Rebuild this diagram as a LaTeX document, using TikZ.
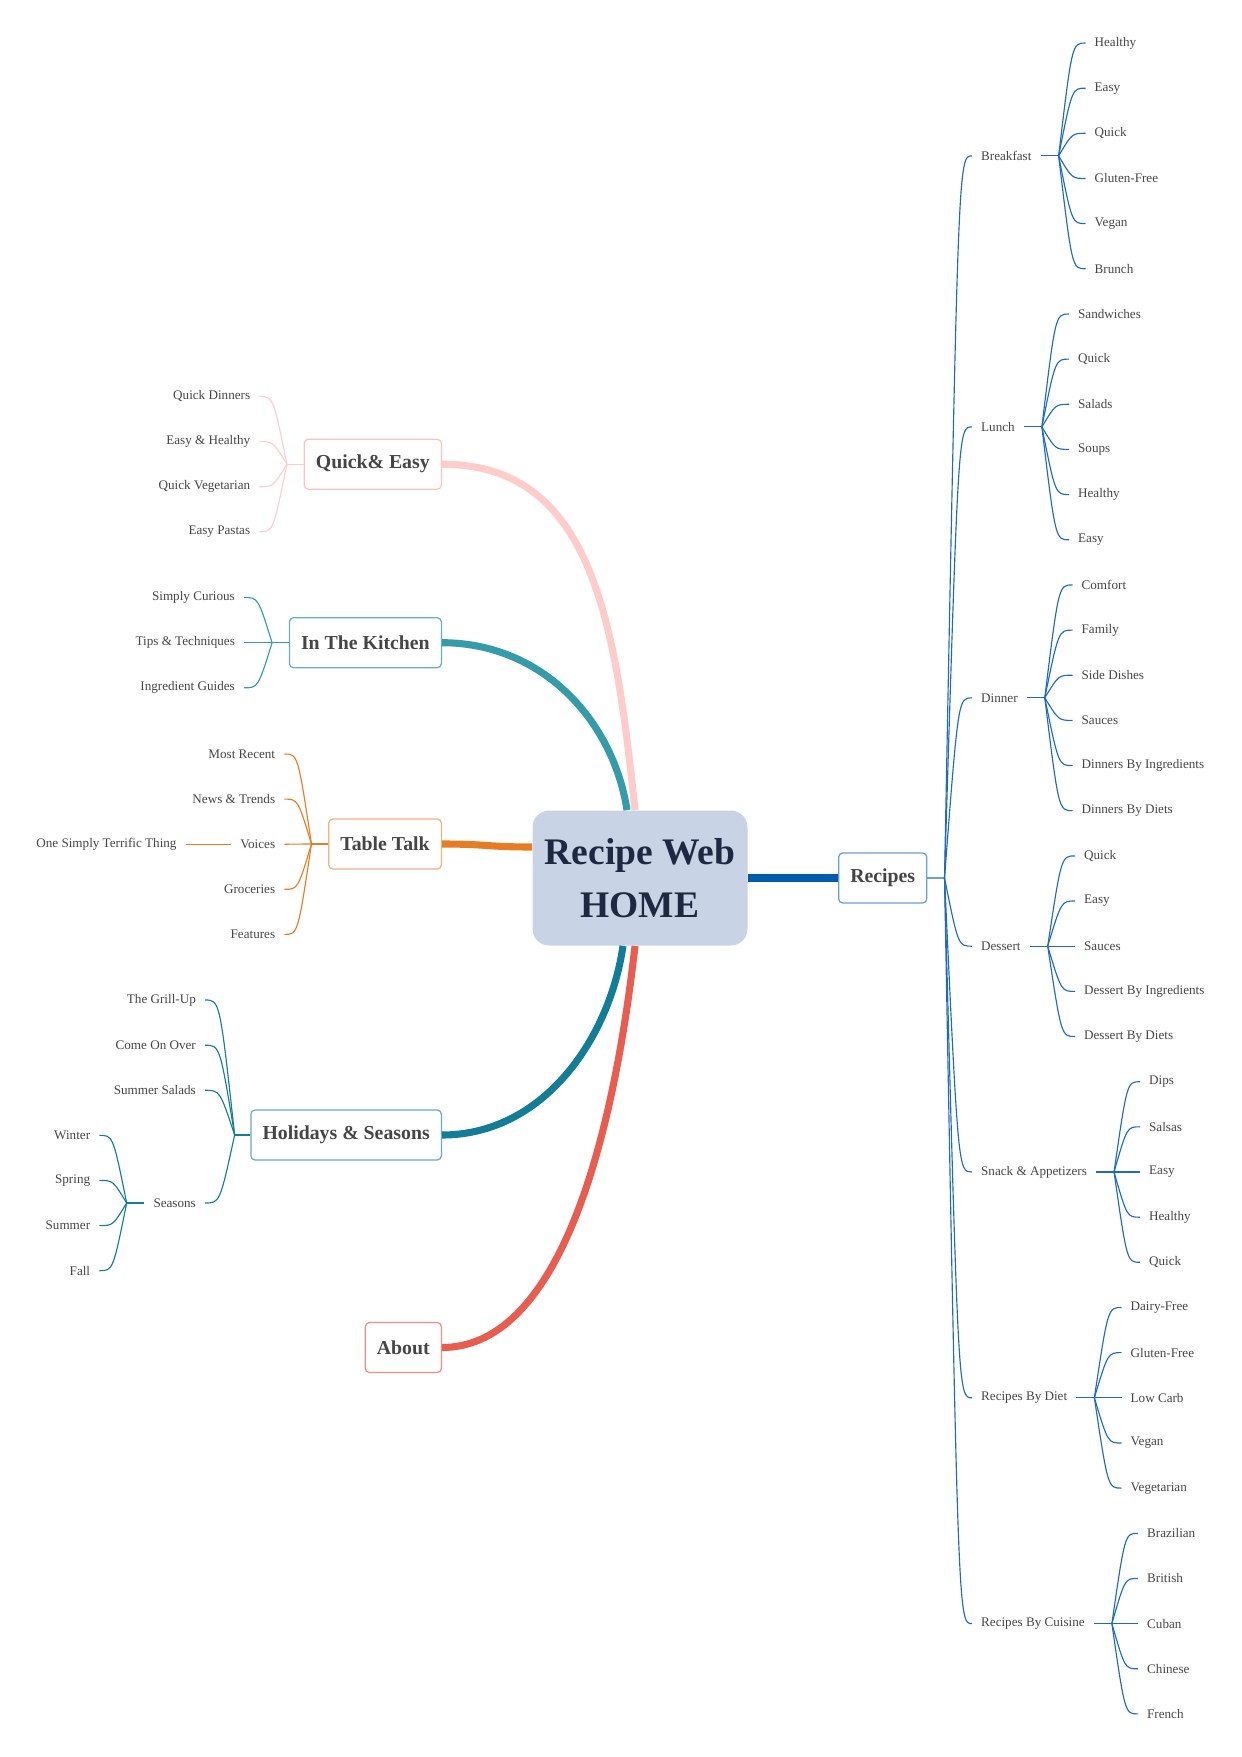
\documentclass[tikz,border=0pt]{standalone}
\usepackage{fontspec}
\setmainfont{Liberation Serif}
\usetikzlibrary{positioning, calc}
\definecolor{rootFill}{HTML}{C8D3E5}
\definecolor{rootInk}{HTML}{1E2840}
\definecolor{inkGray}{HTML}{454545}
\definecolor{recBlue}{HTML}{005BAC}
\definecolor{recLine}{HTML}{1E6BBE}
\definecolor{recEdge}{HTML}{6A9FD4}
\definecolor{qePink}{HTML}{FFCCCC}
\definecolor{qeEdge}{HTML}{FFC2C2}
\definecolor{kitTeal}{HTML}{349CA9}
\definecolor{kitEdge}{HTML}{62B3BE}
\definecolor{talkOrange}{HTML}{E67C24}
\definecolor{talkEdge}{HTML}{F2B27C}
\definecolor{holTeal}{HTML}{137D97}
\definecolor{holEdge}{HTML}{6AAAC0}
\definecolor{aboutRed}{HTML}{E85D50}
\definecolor{aboutEdge}{HTML}{EE8F86}

\begin{document}
\begin{tikzpicture}[x=0.48pt, y=-0.48pt,
    root/.style={rectangle, rounded corners=8pt, fill=rootFill, text=rootInk,
                 font=\fontsize{18}{25.6}\selectfont\bfseries, align=center,
                 minimum width=103.2pt, minimum height=64.8pt},
    topic/.style={rectangle, rounded corners=2pt, draw=#1, line width=0.6pt, fill=white,
                  text=inkGray, font=\fontsize{9.5}{11}\selectfont\bfseries,
                  inner xsep=5.6pt, minimum height=24pt},
    leaf/.style={text=inkGray, font=\fontsize{6.3}{7.5}\selectfont, inner xsep=4.2pt, inner ysep=1pt},
    trunk/.style={line width=3.4pt, draw=#1},
    twig/.style={line width=0.55pt, draw=#1},
    branch/.style={to path={.. controls ($(\tikztostart|-\tikztotarget)!.5!(\tikztotarget)$) .. (\tikztotarget)}},
  ]
    \useasboundingbox (0,0) rectangle (1241,1757);

    \node[root] (home) at (640,878) {Recipe Web\\HOME};

    % ---- right: recipes
    \node[topic=recEdge, anchor=west] (rec) at (838,878) {Recipes};
    \coordinate[right=8.2pt of rec] (rech);
    \draw[trunk=recBlue] (home) -- (rec);
    \draw[twig=recEdge, line width=1pt] (rec) -- (rech);

    \node[leaf, anchor=west] (bf) at (972,155.9)  {Breakfast};
    \node[leaf, anchor=west] (lu) at (972,426.9)  {Lunch};
    \node[leaf, anchor=west] (di) at (972,697.8)  {Dinner};
    \node[leaf, anchor=west] (de) at (972,946.2)  {Dessert};
    \node[leaf, anchor=west] (sn) at (972,1172)   {Snack \& Appetizers};
    \node[leaf, anchor=west] (rd) at (972,1397.8) {Recipes By Diet};
    \node[leaf, anchor=west] (rc) at (972,1623.6) {Recipes By Cuisine};
    \foreach \c in {bf,lu,di,de,sn,rd,rc} {
      \draw[twig=recLine] (rech) to[branch] (\c.west);
      \coordinate[right=8.64pt of \c] (\c h);
      \draw[twig=recLine] (\c) -- (\c h);
    }

    \node[leaf, anchor=west] (bf1) at (1085.5,43.0)  {Healthy};
    \node[leaf, anchor=west] (bf2) at (1085.5,88.2)  {Easy};
    \node[leaf, anchor=west] (bf3) at (1085.5,133.3) {Quick};
    \node[leaf, anchor=west] (bf4) at (1085.5,178.5) {Gluten-Free};
    \node[leaf, anchor=west] (bf5) at (1085.5,223.6) {Vegan};
    \node[leaf, anchor=west] (bf6) at (1085.5,268.8) {Brunch};

    \node[leaf, anchor=west] (lu1) at (1069,314.0) {Sandwiches};
    \node[leaf, anchor=west] (lu2) at (1069,359.1) {Quick};
    \node[leaf, anchor=west] (lu3) at (1069,404.3) {Salads};
    \node[leaf, anchor=west] (lu4) at (1069,449.4) {Soups};
    \node[leaf, anchor=west] (lu5) at (1069,494.6) {Healthy};
    \node[leaf, anchor=west] (lu6) at (1069,539.8) {Easy};

    \node[leaf, anchor=west] (di1) at (1072.5,584.9) {Comfort};
    \node[leaf, anchor=west] (di2) at (1072.5,630.1) {Family};
    \node[leaf, anchor=west] (di3) at (1072.5,675.2) {Side Dishes};
    \node[leaf, anchor=west] (di4) at (1072.5,720.4) {Sauces};
    \node[leaf, anchor=west] (di5) at (1072.5,765.6) {Dinners By Ingredients};
    \node[leaf, anchor=west] (di6) at (1072.5,810.7) {Dinners By Diets};

    \node[leaf, anchor=west] (de1) at (1075,855.9)  {Quick};
    \node[leaf, anchor=west] (de2) at (1075,901.0)  {Easy};
    \node[leaf, anchor=west] (de3) at (1075,946.2)  {Sauces};
    \node[leaf, anchor=west] (de4) at (1075,991.4)  {Dessert By Ingredients};
    \node[leaf, anchor=west] (de5) at (1075,1036.5) {Dessert By Diets};

    \node[leaf, anchor=west] (sn1) at (1140,1081.7) {Dips};
    \node[leaf, anchor=west] (sn2) at (1140,1126.8) {Salsas};
    \node[leaf, anchor=west] (sn3) at (1140,1172.0) {Easy};
    \node[leaf, anchor=west] (sn4) at (1140,1217.2) {Healthy};
    \node[leaf, anchor=west] (sn5) at (1140,1262.3) {Quick};

    \node[leaf, anchor=west] (rd1) at (1121.5,1307.5) {Dairy-Free};
    \node[leaf, anchor=west] (rd2) at (1121.5,1352.6) {Gluten-Free};
    \node[leaf, anchor=west] (rd3) at (1121.5,1397.8) {Low Carb};
    \node[leaf, anchor=west] (rd4) at (1121.5,1443.0) {Vegan};
    \node[leaf, anchor=west] (rd5) at (1121.5,1488.1) {Vegetarian};

    \node[leaf, anchor=west] (rc1) at (1138,1533.3) {Brazilian};
    \node[leaf, anchor=west] (rc2) at (1138,1578.4) {British};
    \node[leaf, anchor=west] (rc3) at (1138,1623.6) {Cuban};
    \node[leaf, anchor=west] (rc4) at (1138,1668.8) {Chinese};
    \node[leaf, anchor=west] (rc5) at (1138,1713.9) {French};

    \foreach \c/\n in {bf/6,lu/6,di/6,de/5,sn/5,rd/5,rc/5}
      \foreach \i in {1,...,\n}
        \draw[twig=recLine] (\c h) to[branch] (\c\i.west);

    % ---- left: quick & easy
    \node[topic=qeEdge, anchor=east] (qe) at (442,464.2) {Quick\& Easy};
    \coordinate[left=8pt of qe] (qeh);
    \draw[trunk=qePink] (qe.east) .. controls +(150,0) and +(-20,-190) .. ([shift={(-5,0)}]home.north);
    \draw[twig=qePink] (qe) -- (qeh);
    \node[leaf, anchor=east] (qe1) at (259.3,396.5) {Quick Dinners};
    \node[leaf, anchor=east] (qe2) at (259.3,441.6) {Easy \& Healthy};
    \node[leaf, anchor=east] (qe3) at (259.3,486.7) {Quick Vegetarian};
    \node[leaf, anchor=east] (qe4) at (259.3,531.8) {Easy Pastas};
    \foreach \i in {1,...,4}
      \draw[twig=qePink] (qeh) to[branch] (qe\i.east);

    % ---- left: in the kitchen
    \node[topic=kitEdge, anchor=east] (kit) at (442,642.7) {In The Kitchen};
    \coordinate[left=8pt of kit] (kith);
    \draw[trunk=kitTeal] (kit.east) .. controls +(100,0) and +(-14,-90) .. ([shift={(-13,0)}]home.north);
    \draw[twig=kitTeal] (kit) -- (kith);
    \node[leaf, anchor=east] (kit1) at (244,597.5) {Simply Curious};
    \node[leaf, anchor=east] (kit2) at (244,642.7) {Tips \& Techniques};
    \node[leaf, anchor=east] (kit3) at (244,687.8) {Ingredient Guides};
    \foreach \i in {1,...,3}
      \draw[twig=kitTeal] (kith) to[branch] (kit\i.east);

    % ---- left: table talk
    \node[topic=talkEdge, anchor=east] (talk) at (442,844) {Table Talk};
    \coordinate[left=8pt of talk] (talkh);
    \draw[trunk=talkOrange] (talk.east) .. controls +(45,0) and +(-45,0) .. ([shift={(0,-31)}]home.west);
    \draw[twig=talkOrange] (talk) -- (talkh);
    \node[leaf, anchor=east] (talk1) at (284.3,754.0) {Most Recent};
    \node[leaf, anchor=east] (talk2) at (284.3,799.1) {News \& Trends};
    \node[leaf, anchor=east] (talk3) at (284.3,844.2) {Voices};
    \node[leaf, anchor=east] (talk4) at (284.3,889.3) {Groceries};
    \node[leaf, anchor=east] (talk5) at (284.3,934.4) {Features};
    \foreach \i in {1,...,5}
      \draw[twig=talkOrange] (talkh) to[branch] (talk\i.east);
    \node[leaf, anchor=east] (ostt) at (185.7,844.2) {One Simply Terrific Thing};
    \draw[twig=talkOrange] (talk3) -- (ostt);

    % ---- left: holidays & seasons
    \node[topic=holEdge, anchor=east] (hol) at (442,1135) {Holidays \& Seasons};
    \coordinate[left=7.5pt of hol] (holh);
    \draw[trunk=holTeal] (hol.east) .. controls +(100,0) and +(-14,95) .. ([shift={(-17,0)}]home.south);
    \draw[twig=holTeal] (hol) -- (holh);
    \node[leaf, anchor=east] (hol1) at (205,1000.0) {The Grill-Up};
    \node[leaf, anchor=east] (hol2) at (205,1045.2) {Come On Over};
    \node[leaf, anchor=east] (hol3) at (205,1090.3) {Summer Salads};
    \node[leaf, anchor=east] (hol4) at (205,1203.0) {Seasons};
    \foreach \i in {1,...,4}
      \draw[twig=holTeal] (holh) to[branch] (hol\i.east);
    \coordinate[left=8.5pt of hol4] (sea);
    \draw[twig=holTeal] (hol4) -- (sea);
    \node[leaf, anchor=east] (sea1) at (99.3,1135.3) {Winter};
    \node[leaf, anchor=east] (sea2) at (99.3,1180.4) {Spring};
    \node[leaf, anchor=east] (sea3) at (99.3,1225.6) {Summer};
    \node[leaf, anchor=east] (sea4) at (99.3,1270.7) {Fall};
    \foreach \i in {1,...,4}
      \draw[twig=holTeal] (sea) to[branch] (sea\i.east);

    % ---- left: about
    \node[topic=aboutEdge, anchor=east] (about) at (442,1347.5) {About};
    \draw[trunk=aboutRed] (about.east) .. controls +(110,0) and +(-25,220) .. ([shift={(-5,0)}]home.south);
  \end{tikzpicture}
\end{document}
